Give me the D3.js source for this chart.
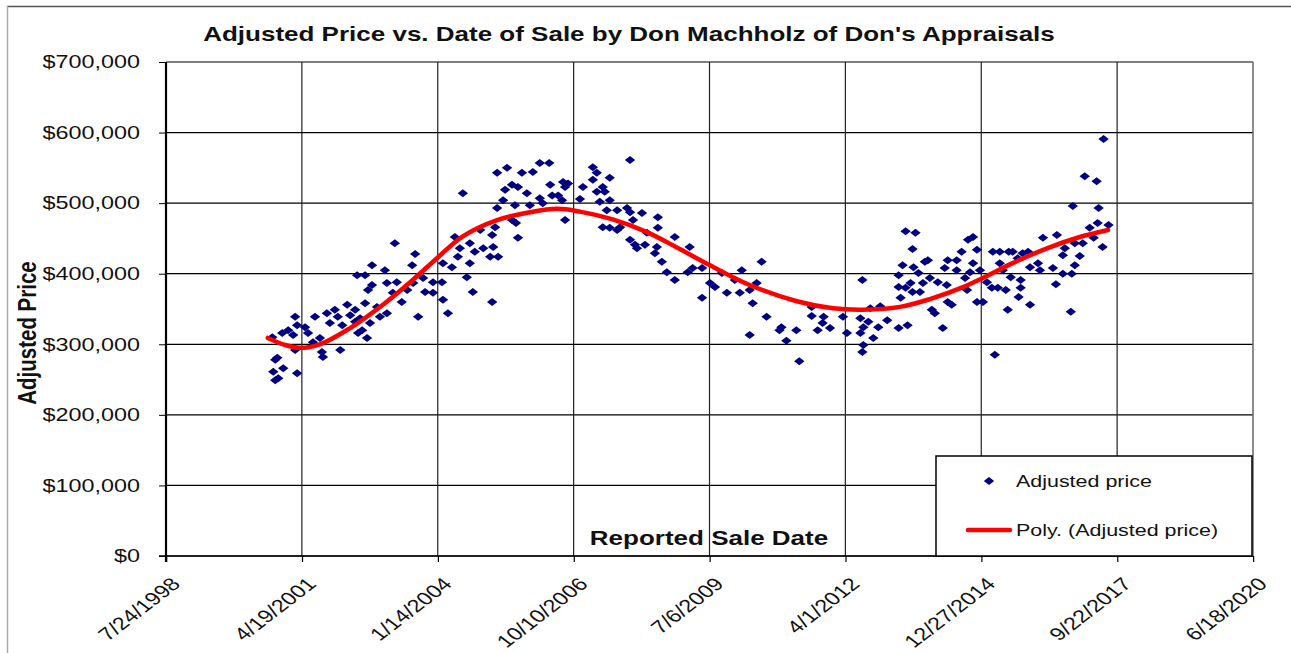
<!DOCTYPE html>
<html>
<head>
<meta charset="utf-8">
<script src="https://cdn.jsdelivr.net/npm/d3@7"></script>
<style>
  body { margin: 0; background: #fff; }
  svg { display: block; }
  text { font-family: Arial, "Liberation Sans", sans-serif; }
</style>
</head>
<body>
<svg id="chart" width="1291" height="653"></svg>
<script>
// sales: [decimal year of sale, adjusted price in $1000]
const sales = [
  // 2000 - 2002
  [2000.70,310],[2000.80,281],[2000.76,278],[2000.72,261],[2000.92,266],[2000.76,249],[2000.82,252],[2001.20,259],
  [2001.16,339],[2001.20,327],[2001.02,320],[2000.90,316],[2001.12,313],[2001.16,292],[2001.36,324],[2001.42,316],
  [2001.56,339],[2001.52,303],[2001.70,289],[2001.72,282],[2001.80,344],[2001.86,330],[2001.96,349],[2002.11,327],
  [2002.07,292],[2002.21,356],[2002.27,341],[2002.37,349],[2002.43,316],[2002.57,358],[2002.67,330],[2002.51,320],
  [2002.41,398],[2002.57,398],[2002.63,377],[2002.71,384],[2002.71,412],
  [2001.66,309],[2002.02,339],[2002.37,332],[2002.47,337],[2002.61,309],
  // 2002 - 2004
  [2002.81,353],[2002.87,339],[2002.97,405],[2003.01,387],[2003.01,344],[2003.13,373],[2003.21,388],[2003.31,360],
  [2003.42,377],[2003.52,412],[2003.54,387],[2003.58,428],[2003.64,339],[2003.74,394],[2003.78,374],[2003.17,443],
  // 2004 - 2008
  [2004.54,514],[2005.23,543],[2005.43,550],[2005.73,543],[2005.95,544],[2006.09,557],[2006.28,557],[2005.39,519],
  [2005.53,526],[2005.65,523],[2005.83,514],[2005.35,504],[2005.23,493],[2005.59,497],[2006.09,507],[2006.30,526],
  [2006.34,511],[2006.46,511],[2006.56,530],[2006.66,528],[2006.54,504],[2006.60,523],[2006.15,500],[2005.89,497],
  [2005.53,476],[2005.61,472],[2006.60,476],[2005.65,451],[2005.19,466],[2005.13,455],[2004.89,462],[2004.68,443],
  [2005.15,438],[2004.95,436],[2004.78,431],[2004.48,436],[2004.38,452],[2004.44,424],[2004.68,415],[2004.14,415],
  [2004.32,409],[2005.09,424],[2005.25,424],[2004.62,395],[2004.74,374],[2005.13,360],[2004.24,344],[2003.94,388],
  [2004.12,388],[2003.94,373],[2004.14,363],[2006.90,506],[2006.96,523],[2007.16,551],[2007.24,543],[2007.16,533],
  [2007.50,536],[2007.36,523],[2007.40,516],[2007.24,516],[2007.30,502],[2007.50,504],[2007.44,490],[2007.65,490],
  [2007.91,561],[2007.85,493],[2007.91,487],[2008.15,486],[2007.97,476],[2007.36,466],[2007.50,465],[2007.65,462],
  [2007.71,466],[2008.25,458],[2007.91,448],[2008.01,441],[2008.05,436],[2008.21,441],
  // 2008 - 2012
  [2008.47,480],[2008.47,465],[2008.45,438],[2008.41,429],[2008.55,417],[2008.65,402],[2008.81,391],[2008.81,452],
  [2009.11,438],[2009.07,402],[2009.17,408],[2009.36,408],[2009.36,366],[2009.52,387],[2009.62,381],[2009.76,401],
  [2009.86,373],[2010.02,391],[2010.12,373],[2010.16,405],[2010.32,377],[2010.46,387],[2010.56,417],[2010.38,358],
  [2010.32,313],[2010.66,339],[2010.96,324],[2010.92,320],[2011.06,305],[2011.26,320],[2011.32,276],[2011.57,353],
  [2011.57,340],[2011.69,320],[2011.81,339],[2011.79,330],
  // 2012 - 2016
  [2011.94,323],[2012.20,339],[2012.28,316],[2012.59,391],[2012.55,337],[2012.61,324],[2012.55,316],[2012.61,299],
  [2012.59,289],[2012.71,332],[2012.81,309],[2012.91,324],[2012.75,351],[2012.95,354],[2013.09,334],[2013.32,323],
  [2013.50,327],[2013.36,366],[2013.32,381],[2013.32,398],[2013.40,412],[2013.46,460],[2013.66,458],[2013.60,435],
  [2013.46,380],[2013.56,387],[2013.60,374],[2013.62,409],[2013.72,401],[2013.75,374],[2013.81,387],[2013.85,417],
  [2013.91,419],[2013.95,394],[2013.99,349],[2014.05,344],[2014.11,388],[2014.21,323],[2014.25,408],[2014.29,384],
  [2014.31,419],[2014.31,360],[2014.39,356],[2014.49,405],[2014.49,419],[2014.59,431],[2014.66,394],[2014.70,377],
  [2014.72,448],[2014.82,452],[2014.82,415],[2014.76,402],[2014.90,434],[2014.90,360],[2015.02,360],[2014.96,405],
  [2015.10,388],[2015.20,380],[2015.22,431],[2015.26,285],[2015.32,380],[2015.36,431],[2015.36,415],[2015.42,405],
  [2015.48,377],[2015.52,349],[2015.54,431],[2015.58,395],[2015.62,431],[2015.72,422],[2015.78,380],[2015.78,391],
  [2015.74,367],[2015.82,429],[2015.93,431],[2015.97,409],[2015.97,356],[2016.13,415],[2016.17,405],[2016.23,451],
  // 2016 - 2017
  [2017.45,591],[2017.07,538],[2017.31,531],[2016.83,496],[2017.35,493],[2017.33,472],[2017.17,465],[2017.55,469],
  [2016.51,455],[2016.67,436],[2016.87,443],[2017.03,443],[2017.25,451],[2017.43,438],[2016.63,426],[2016.97,425],
  [2016.87,412],[2016.43,408],[2016.63,400],[2016.81,400],[2016.49,385],[2016.79,346]
];

// polynomial trend
const trendYear = [2000.61, 2000.96, 2001.26, 2001.66, 2002.27, 2002.93, 2003.48, 2004.02, 2004.54, 2005.23,
  2005.89, 2006.44, 2006.90, 2007.56, 2008.25, 2008.91, 2009.52, 2010.32, 2011.27, 2012.00,
  2012.60, 2013.35, 2013.95, 2014.62, 2015.02, 2015.62, 2016.31, 2016.97, 2017.54];
const trendPrice = [309, 299, 295, 300, 323, 356, 388, 422, 453, 476,
  487, 492, 488, 477, 459, 435, 412, 384, 361, 351,
  349, 353, 364, 381, 394, 415, 436, 452, 462];

const xTickLabels = ['7/24/1998', '4/19/2001', '1/14/2004', '10/10/2006', '7/6/2009',
  '4/1/2012', '12/27/2014', '9/22/2017', '6/18/2020'];
const yTicks = [0, 100000, 200000, 300000, 400000, 500000, 600000, 700000];

const titleText = "Adjusted Price vs. Date of Sale by Don Machholz of Don's Appraisals";
const legendLabels = ['Adjusted price', 'Poly. (Adjusted price)'];

// the picture is stretched sideways, so everything is drawn in a squeezed frame
const S = 1.3;
const px = v => v / S;

const parseDate = d3.timeParse('%m/%d/%Y');
const xTickDates = xTickLabels.map(parseDate);

function yearToDate(yr) {
  const y0 = Math.floor(yr);
  const start = new Date(y0, 0, 1);
  const end = new Date(y0 + 1, 0, 1);
  return new Date(+start + (yr - y0) * (end - start));
}

const svg = d3.select('#chart');

// outer chart frame
svg.append('line').attr('x1', 7).attr('x2', 1291).attr('y1', 6.5).attr('y2', 6.5)
  .attr('stroke', '#555').attr('stroke-width', 1.5);
svg.append('line').attr('x1', 7.5).attr('x2', 7.5).attr('y1', 6).attr('y2', 653)
  .attr('stroke', '#aaa').attr('stroke-width', 1.5);

const g = svg.append('g').attr('transform', `scale(${S},1)`);

const x = d3.scaleTime()
  .domain([xTickDates[0], xTickDates[xTickDates.length - 1]])
  .range([px(166), px(1253)]);

const y = d3.scaleLinear()
  .domain([0, 700000])
  .range([556, 62]);

// grid
g.selectAll('line.hgrid')
  .data(yTicks)
  .join('line')
  .attr('class', 'hgrid')
  .attr('x1', x.range()[0]).attr('x2', x.range()[1])
  .attr('y1', d => y(d)).attr('y2', d => y(d))
  .attr('stroke', '#000')
  .attr('stroke-width', 1.2)
  .attr('vector-effect', 'non-scaling-stroke');

g.selectAll('line.vgrid')
  .data(xTickDates.slice(1, -1))
  .join('line')
  .attr('class', 'vgrid')
  .attr('x1', d => x(d)).attr('x2', d => x(d))
  .attr('y1', y(700000)).attr('y2', y(0))
  .attr('stroke', '#222')
  .attr('stroke-width', 1.2)
  .attr('vector-effect', 'non-scaling-stroke');

// right edge of plot area
g.append('line')
  .attr('x1', x.range()[1]).attr('x2', x.range()[1])
  .attr('y1', y(700000)).attr('y2', y(0))
  .attr('stroke', '#666')
  .attr('stroke-width', 1.5)
  .attr('vector-effect', 'non-scaling-stroke');

// y axis
const yAxis = g.append('g')
  .attr('transform', `translate(${px(166)},0)`)
  .call(d3.axisLeft(y)
    .tickValues(yTicks)
    .tickFormat(d3.format('$,'))
    .tickSizeInner(px(7))
    .tickSizeOuter(0)
    .tickPadding(px(19)));
yAxis.select('.domain').remove();
yAxis.selectAll('line').attr('stroke', '#000').attr('vector-effect', 'non-scaling-stroke');
yAxis.selectAll('text')
  .attr('font-size', 18)
  .attr('font-family', 'Arial, "Liberation Sans", sans-serif')
  .attr('fill', '#111');

// x axis
const xAxis = g.append('g')
  .attr('transform', `translate(0,${y(0)})`)
  .call(d3.axisBottom(x)
    .tickValues(xTickDates)
    .tickFormat((d, i) => xTickLabels[i])
    .tickSizeInner(6)
    .tickSizeOuter(0));
xAxis.select('.domain').remove();
xAxis.selectAll('line').attr('stroke', '#000').attr('stroke-width', 1.2).attr('vector-effect', 'non-scaling-stroke');
xAxis.selectAll('text')
  .attr('font-size', 18)
  .attr('font-family', 'Arial, "Liberation Sans", sans-serif')
  .attr('fill', '#111')
  .attr('text-anchor', 'end')
  .attr('x', 0).attr('y', 0)
  .attr('dy', '0.72em')
  .attr('transform', `translate(${px(3)},20) rotate(-45)`);

// axis lines
g.append('line')
  .attr('x1', px(166)).attr('x2', px(166))
  .attr('y1', y(700000)).attr('y2', y(0) + 6)
  .attr('stroke', '#000').attr('stroke-width', 2.2)
  .attr('vector-effect', 'non-scaling-stroke');
g.append('line')
  .attr('x1', px(159)).attr('x2', x.range()[1])
  .attr('y1', y(0)).attr('y2', y(0))
  .attr('stroke', '#000').attr('stroke-width', 1.6)
  .attr('vector-effect', 'non-scaling-stroke');

// diamond marker
const diamond = 'M0,-4L4,0L0,4L-4,0Z';

g.append('g')
  .selectAll('path')
  .data(sales)
  .join('path')
  .attr('d', diamond)
  .attr('transform', d => `translate(${x(yearToDate(d[0]))},${y(d[1] * 1000)})`)
  .attr('fill', '#000080');

// trend line
const trend = trendYear.map((yr, i) => [yearToDate(yr), trendPrice[i] * 1000]);
g.append('path')
  .datum(trend)
  .attr('fill', 'none')
  .attr('stroke', '#ff0000')
  .attr('stroke-width', 4.5)
  .attr('stroke-linecap', 'round')
  .attr('stroke-linejoin', 'round')
  .attr('vector-effect', 'non-scaling-stroke')
  .attr('d', d3.line()
    .curve(d3.curveCatmullRom)
    .x(d => x(d[0]))
    .y(d => y(d[1])));

// titles
g.append('text')
  .attr('x', px(629)).attr('y', 41)
  .attr('text-anchor', 'middle')
  .attr('font-size', 20)
  .attr('font-weight', 'bold')
  .attr('fill', '#111')
  .text(titleText);

g.append('text')
  .attr('x', px(709)).attr('y', 545)
  .attr('text-anchor', 'middle')
  .attr('font-size', 20)
  .attr('font-weight', 'bold')
  .attr('fill', '#111')
  .text('Reported Sale Date');

g.append('text')
  .attr('transform', `translate(${px(36)},333) rotate(-90)`)
  .attr('text-anchor', 'middle')
  .attr('font-size', 20.5)
  .attr('font-weight', 'bold')
  .attr('fill', '#111')
  .text('Adjusted Price');

// legend
const legend = g.append('g');
legend.append('rect')
  .attr('x', px(936)).attr('y', 456)
  .attr('width', px(1252 - 936)).attr('height', 100)
  .attr('fill', '#fff')
  .attr('stroke', '#000')
  .attr('stroke-width', 1.5)
  .attr('vector-effect', 'non-scaling-stroke');

legend.append('path')
  .attr('d', diamond)
  .attr('transform', `translate(${px(989)},481)`)
  .attr('fill', '#000080');

legend.append('line')
  .attr('x1', px(968)).attr('x2', px(1010))
  .attr('y1', 530).attr('y2', 530)
  .attr('stroke', '#ff0000')
  .attr('stroke-width', 4.5)
  .attr('stroke-linecap', 'round')
  .attr('vector-effect', 'non-scaling-stroke');

legend.selectAll('text')
  .data(legendLabels)
  .join('text')
  .attr('x', px(1016))
  .attr('y', (d, i) => 487 + i * 49)
  .attr('font-size', 16.5)
  .attr('fill', '#111')
  .text(d => d);
</script>
</body>
</html>
